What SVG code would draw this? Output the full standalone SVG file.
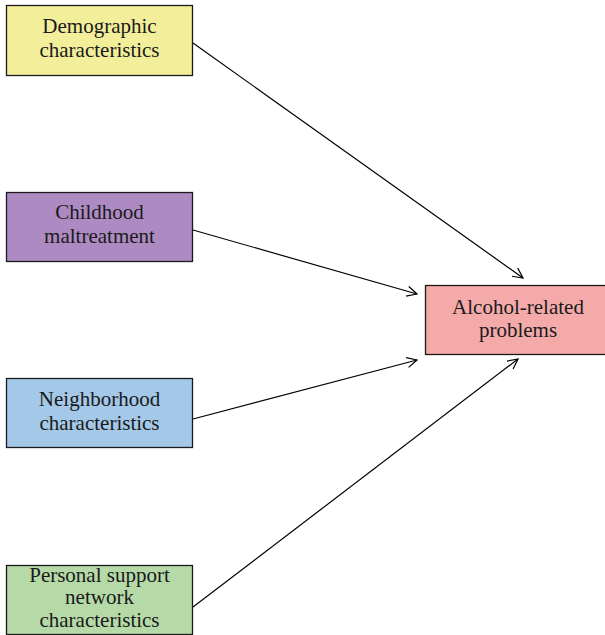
<svg xmlns="http://www.w3.org/2000/svg" width="605" height="635" viewBox="0 0 605 635">
<style>
.box{stroke:#1a1a1a;stroke-width:1.3}
.lbl{font-family:"Liberation Serif","Times New Roman",serif;font-size:21px;fill:#1a1a1a;text-anchor:middle}
.conn{stroke:#000;stroke-width:1.2;fill:none;marker-end:url(#ah)}
</style>
<defs>
<marker id="ah" viewBox="0 0 12 12" refX="11" refY="6" markerWidth="12" markerHeight="12" markerUnits="userSpaceOnUse" orient="auto">
<path d="M1,1 L11,6 L1,11" fill="none" stroke="#000" stroke-width="1.2"/>
</marker>
</defs>
<rect width="605" height="635" fill="#fff"/>
<g id="connectors">
<line class="conn" x1="193" y1="43" x2="523" y2="278"/>
<line class="conn" x1="193" y1="230" x2="417" y2="294"/>
<line class="conn" x1="193" y1="419" x2="417" y2="360"/>
<line class="conn" x1="193" y1="607" x2="518" y2="359"/>
</g>
<g id="demographic">
<rect class="box" x="6.5" y="5.5" width="186" height="70" fill="#F2EE9A"/>
<text class="lbl" x="99.5" y="33">Demographic</text>
<text class="lbl" x="99.5" y="57">characteristics</text>
</g>
<g id="childhood">
<rect class="box" x="6.5" y="192.5" width="186" height="69" fill="#AD8BC2"/>
<text class="lbl" x="99.5" y="219">Childhood</text>
<text class="lbl" x="99.5" y="243">maltreatment</text>
</g>
<g id="neighborhood">
<rect class="box" x="6.5" y="378.5" width="186" height="69" fill="#A4C8E8"/>
<text class="lbl" x="99.5" y="406">Neighborhood</text>
<text class="lbl" x="99.5" y="430">characteristics</text>
</g>
<g id="personal">
<rect class="box" x="6.5" y="565.5" width="186" height="69" fill="#B6D9A8"/>
<text class="lbl" x="99.5" y="582">Personal support</text>
<text class="lbl" x="99.5" y="604">network</text>
<text class="lbl" x="99.5" y="627">characteristics</text>
</g>
<g id="alcohol">
<rect class="box" x="425.5" y="285.5" width="186" height="69" fill="#F5AAAA"/>
<text class="lbl" x="518" y="314">Alcohol-related</text>
<text class="lbl" x="518" y="337">problems</text>
</g>
</svg>
